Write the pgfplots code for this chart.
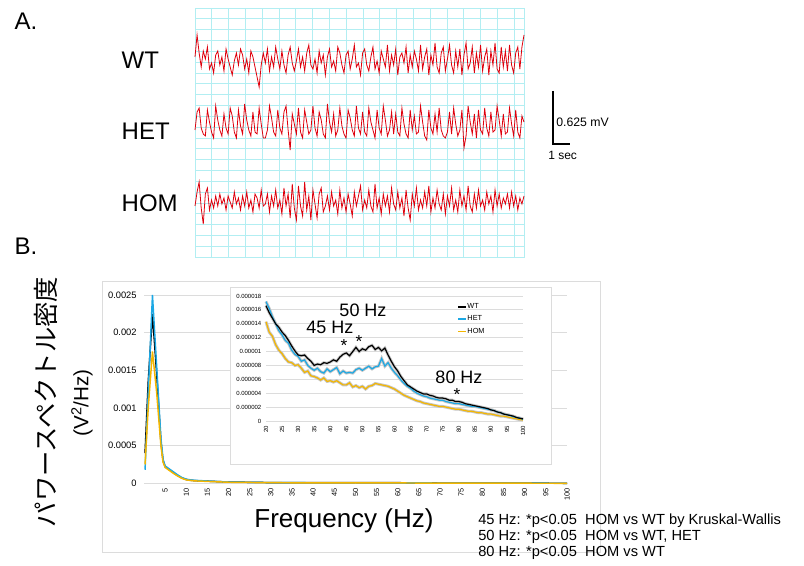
\documentclass[border=0pt]{standalone}
\usepackage{fontspec}
\setmainfont{Liberation Sans}
\newfontfamily\jp{Noto Sans CJK JP}
\usepackage{pgfplots}
\pgfplotsset{compat=1.18}
\usepackage{pgfplotstable}

\definecolor{wt}{RGB}{0,0,0}
\definecolor{het}{RGB}{28,168,228}
\definecolor{hom}{RGB}{244,182,0}
\definecolor{trace}{RGB}{222,0,12}
\definecolor{gridc}{RGB}{178,238,242}
\definecolor{gl}{RGB}{220,220,220}

% EEG traces, offsets in px from the trace baseline (up = positive)
\pgfplotstableread[row sep=\\]{v\\
4\\26\\8\\-6\\10\\2\\14\\-8\\-2\\-12\\
6\\10\\-4\\4\\-10\\12\\2\\-6\\-14\\0\\
8\\-4\\12\\6\\-8\\2\\-12\\10\\4\\-6\\
-16\\-26\\-4\\8\\-2\\12\\-10\\4\\-6\\14\\
2\\-8\\10\\-4\\-12\\6\\14\\-2\\-10\\0\\
12\\-6\\4\\-10\\8\\16\\-4\\-8\\2\\-12\\
10\\-2\\6\\-14\\4\\12\\-6\\0\\-10\\14\\
8\\-4\\-12\\6\\10\\-8\\2\\16\\-6\\-2\\
-14\\8\\12\\-4\\-10\\4\\14\\-8\\0\\-12\\
10\\2\\-6\\16\\-10\\6\\-4\\12\\-14\\4\\
8\\-2\\14\\-12\\6\\-6\\10\\2\\-10\\16\\
-8\\4\\12\\-14\\6\\-4\\18\\-6\\-12\\8\\
14\\-10\\2\\16\\-4\\-12\\10\\-6\\12\\-14\\
6\\18\\-8\\-2\\14\\-12\\8\\-6\\16\\-10\\
4\\12\\-14\\10\\-4\\18\\-8\\-12\\14\\-6\\
10\\-10\\16\\-4\\-12\\8\\14\\-8\\14\\26\\
}\wteeg

\pgfplotstableread[row sep=\\]{v\\
-4\\14\\18\\-2\\-8\\-10\\16\\4\\-6\\-12\\
20\\6\\-4\\-10\\12\\-2\\-8\\18\\10\\-6\\
-12\\16\\0\\-8\\22\\6\\-4\\-10\\14\\-6\\
-8\\18\\2\\-12\\-12\\-4\\20\\8\\-6\\-10\\
16\\-2\\-8\\14\\20\\-4\\-24\\12\\2\\-8\\
18\\-6\\-12\\16\\4\\-8\\-4\\20\\-2\\-10\\
14\\6\\-8\\-12\\22\\4\\-6\\12\\-10\\-4\\
18\\0\\-8\\-12\\16\\8\\-4\\-10\\20\\-2\\
-8\\14\\-6\\-10\\18\\4\\-4\\-12\\16\\-2\\
-8\\20\\6\\-10\\-4\\14\\-8\\12\\-6\\-10\\
18\\2\\-8\\-12\\16\\-4\\10\\-8\\-6\\20\\
4\\-10\\-14\\16\\-2\\-8\\12\\-6\\18\\-4\\
-10\\-12\\-6\\14\\-8\\18\\2\\-10\\-4\\16\\
-22\\-10\\20\\4\\-8\\12\\-12\\16\\-4\\-8\\
18\\-2\\-10\\14\\-6\\-4\\20\\6\\-10\\12\\
-8\\-6\\18\\2\\-10\\16\\-6\\-12\\10\\4\\
}\heteeg

\pgfplotstableread[row sep=\\]{v\\
-4\\10\\20\\-6\\-22\\8\\14\\-8\\2\\-6\\
6\\-4\\8\\-2\\4\\-8\\6\\0\\-6\\10\\
-2\\4\\-8\\6\\-4\\10\\-6\\2\\-10\\8\\
4\\-6\\12\\-4\\-2\\8\\-10\\6\\-4\\12\\
-6\\2\\-12\\14\\-4\\8\\-16\\18\\-6\\-18\\
16\\-4\\-14\\20\\-8\\6\\-18\\12\\-2\\-16\\
8\\14\\-10\\-4\\6\\-8\\10\\-4\\2\\-12\\
12\\-6\\4\\-10\\8\\-2\\-14\\10\\-4\\6\\
16\\-8\\2\\-6\\12\\-4\\-10\\18\\-6\\4\\
-12\\8\\-4\\6\\-10\\14\\-2\\-8\\10\\-6\\
4\\-14\\12\\-6\\-18\\8\\-4\\14\\-8\\2\\
-6\\10\\-4\\16\\-10\\4\\-6\\12\\-2\\-8\\
8\\-12\\6\\-4\\14\\-8\\2\\-10\\12\\-4\\
6\\-8\\16\\-4\\-10\\8\\-6\\12\\-4\\2\\
-8\\10\\-2\\6\\-10\\12\\-4\\8\\-6\\4\\
-2\\8\\-6\\10\\-4\\6\\-8\\4\\-2\\6\\
}\homeeg

% power spectral density, main plot (units of 1e-3 V^2/Hz)
\pgfplotstableread{
f wt het hom
0.25 0.40 0.18 0.25
1 1.35 1.20 1.00
2 2.25 2.50 1.75
3 1.45 1.55 1.20
4 0.55 0.60 0.50
4.5 0.30 0.32 0.28
5 0.22 0.23 0.21
6 0.18 0.19 0.17
7 0.14 0.15 0.13
8 0.10 0.11 0.095
9 0.07 0.075 0.065
10 0.05 0.055 0.045
11 0.04 0.045 0.038
12 0.035 0.04 0.032
15 0.028 0.03 0.025
20 0.017 0.017 0.014
30 0.0095 0.0093 0.0081
40 0.0085 0.0071 0.0058
50 0.0104 0.0073 0.005
60 0.0078 0.007 0.0046
70 0.0039 0.0035 0.0025
80 0.0028 0.0025 0.0017
90 0.0016 0.0016 0.001
100 0.0003 0.00025 0.00015
}\lowf

% inset, 20-100 Hz (units of 1e-6 V^2/Hz)
\pgfplotstableread{
f wt het hom
20 16.6 17.2 14.3
21 15.6 16.2 12.8
22 14.8 15.0 12.2
23 14.0 14.0 11.0
24 13.5 13.0 10.2
25 12.8 12.4 9.7
26 12.3 11.6 9.0
27 11.6 11.2 8.5
28 10.8 10.2 8.4
29 10.1 9.6 8.0
30 9.5 9.3 8.1
31 9.4 8.6 7.6
32 9.5 8.8 7.0
33 9.0 8.0 7.2
34 8.6 7.6 6.5
35 8.0 7.3 6.4
36 8.2 7.6 6.2
37 8.1 7.1 5.9
38 8.4 6.9 6.2
39 8.3 7.5 5.7
40 8.5 7.1 5.8
41 8.8 7.4 5.6
42 8.6 7.7 5.8
43 9.2 6.8 5.5
44 9.6 7.2 5.2
45 9.8 6.9 5.2
46 9.4 7.0 5.5
47 10.0 6.9 4.9
48 10.6 7.4 5.1
49 10.0 7.6 4.8
50 10.4 7.3 5.0
51 10.2 7.6 4.6
52 10.7 7.9 5.0
53 10.9 7.5 5.1
54 10.3 7.8 5.4
55 10.6 7.9 5.3
56 10.1 9.0 5.2
57 10.5 7.9 5.1
58 9.5 8.4 5.0
59 8.6 7.6 4.8
60 7.8 7.0 4.6
61 7.2 6.5 4.3
62 6.4 5.9 4.0
63 5.8 5.4 3.7
64 5.2 5.0 3.5
65 4.9 4.7 3.3
66 4.6 4.3 3.1
67 4.3 4.0 2.9
68 4.1 3.8 2.8
69 3.9 3.6 2.6
70 3.9 3.5 2.5
71 3.7 3.3 2.4
72 3.6 3.2 2.3
73 3.4 3.1 2.2
74 3.3 3.0 2.1
75 3.3 3.0 2.1
76 3.2 2.8 2.0
77 3.0 2.7 1.9
78 3.0 2.6 1.8
79 2.8 2.5 1.7
80 2.8 2.5 1.7
81 2.7 2.4 1.6
82 2.5 2.3 1.5
83 2.4 2.2 1.4
84 2.3 2.1 1.4
85 2.2 2.1 1.3
86 2.1 2.0 1.2
87 2.0 1.9 1.2
88 1.9 1.8 1.1
89 1.8 1.7 1.0
90 1.6 1.6 1.0
91 1.5 1.5 0.9
92 1.3 1.3 0.8
93 1.2 1.2 0.7
94 1.0 1.0 0.7
95 0.9 0.9 0.6
96 0.8 0.8 0.5
97 0.7 0.6 0.4
98 0.5 0.5 0.3
99 0.4 0.4 0.2
100 0.3 0.25 0.15
}\inset

\pgfplotsset{
  eeg/.style={hide axis, scale only axis, width=246.75pt, height=37.5pt,
    xmin=0, xmax=159, ymin=-25, ymax=25, clip=false, anchor=origin},
  xl/.style={scale only axis, axis line style={draw=none},
    major tick length=0pt, tick style={draw=none},
    ymajorgrids, major grid style={gl, line width=0.6pt},
    /pgf/number format/assume math mode=true,
    xticklabel style={rotate=90, anchor=east},
    clip=false},
}

\begin{document}
\begin{tikzpicture}[x=0.75pt, y=-0.75pt]
\useasboundingbox (0,0) rectangle (804,566);

% ---- panel A ----
\node[anchor=west, font=\fontsize{18}{20}\selectfont] at (10,21) {A.};
\foreach \k in {0,...,19} \draw[gridc, line width=0.6pt] ({195+16.8*\k},8) -- ({195+16.8*\k},258);
\draw[gridc, line width=0.6pt] (524,8) -- (524,258);
\foreach \k in {0,...,23} \draw[gridc, line width=0.6pt] (195,{8+10.83*\k}) -- (524,{8+10.83*\k});

\coordinate (wtO) at (195,61);
\coordinate (hetO) at (195,126);
\coordinate (homO) at (195,202);
\begin{axis}[eeg, at={(wtO)}]
  \addplot[trace, line width=0.6pt] table[x expr=\coordindex, y=v] {\wteeg};
\end{axis}
\begin{axis}[eeg, at={(hetO)}]
  \addplot[trace, line width=0.6pt] table[x expr=\coordindex, y=v] {\heteeg};
\end{axis}
\begin{axis}[eeg, at={(homO)}]
  \addplot[trace, line width=0.6pt] table[x expr=\coordindex, y=v] {\homeeg};
\end{axis}

\node[anchor=west, font=\fontsize{18}{20}\selectfont] at (117,60) {WT};
\node[anchor=west, font=\fontsize{18}{20}\selectfont] at (117,131) {HET};
\node[anchor=west, font=\fontsize{18}{20}\selectfont] at (117,203) {HOM};

% scale bar
\draw[line width=1.3pt] (553,91) -- (553,144) -- (570,144);
\node[anchor=west, font=\fontsize{9.2}{11}\selectfont, inner sep=0pt] at (556,122) {0.625 mV};
\node[anchor=west, font=\fontsize{9}{11}\selectfont, inner sep=0pt] at (548,155) {1 sec};

% ---- panel B ----
\node[anchor=west, font=\fontsize{18}{20}\selectfont] at (10,246) {B.};
\draw[gl, line width=0.5pt] (102,281) rectangle (600,552);

\coordinate (mainO) at (144,483.3);
\begin{axis}[xl, at={(mainO)}, anchor=origin,
  width=317.25pt, height=141.2pt,
  xmin=0, xmax=100, ymin=0, ymax=2.5,
  xtick={5,10,...,100}, ytick={0,0.5,...,2.5},
  yticklabels={0,0.0005,0.001,0.0015,0.002,0.0025},
  xticklabel style={font=\fontsize{5.5}{6}\selectfont},
  yticklabel style={font=\fontsize{7}{8}\selectfont, xshift=-2pt},
  ]
  \addplot[wt, line width=1.1pt] table[x=f, y=wt] {\lowf};
  \addplot[het, line width=1.1pt] table[x=f, y=het] {\lowf};
  \addplot[hom, line width=1.1pt] table[x=f, y=hom] {\lowf};
\end{axis}

% inset
\draw[gl, line width=0.5pt, fill=white] (230,287) rectangle (551,464);
\coordinate (inSW) at (266,421);
\begin{axis}[xl, at={(inSW)}, anchor=south west,
  width=192.75pt, height=93.75pt,
  xmin=20, xmax=100, ymin=0, ymax=18,
  xtick={20,25,...,100}, ytick={0,2,...,18},
  yticklabels={0,0.000002,0.000004,0.000006,0.000008,0.00001,0.000012,0.000014,0.000016,0.000018},
  xticklabel style={font=\fontsize{4.5}{5}\selectfont},
  yticklabel style={font=\fontsize{4.5}{5}\selectfont},
  legend style={at={(0.743,0.95)}, anchor=north west, draw=none, fill=none,
    font=\fontsize{5.5}{6}\selectfont, row sep=3pt, inner sep=0pt,
    nodes={inner sep=0.5pt}},
  legend cell align=left,
  legend image code/.code={\draw[#1, line width=1.2pt] (0pt,0pt) -- (6pt,0pt);},
  ]
  \addlegendimage{wt}\addlegendentry{WT}
  \addlegendimage{het}\addlegendentry{HET}
  \addlegendimage{hom}\addlegendentry{HOM}
  \addplot[gray!45, line width=2.2pt, forget plot] table[x=f, y=hom] {\inset};
  \addplot[gray!45, line width=2.2pt, forget plot] table[x=f, y=het] {\inset};
  \addplot[gray!45, line width=2.2pt, forget plot] table[x=f, y=wt] {\inset};
  \addplot[hom, line width=0.9pt, forget plot] table[x=f, y=hom] {\inset};
  \addplot[het, line width=0.9pt, forget plot] table[x=f, y=het] {\inset};
  \addplot[wt, line width=0.9pt, forget plot] table[x=f, y=wt] {\inset};
\end{axis}

\node[font=\fontsize{13.5}{15}\selectfont] at (363,310) {50 Hz};
\node[font=\fontsize{13.5}{15}\selectfont] at (330,327) {45 Hz};
\node[font=\fontsize{13.5}{15}\selectfont] at (459,377) {80 Hz};
\node[font=\fontsize{13}{14}\selectfont] at (344,346) {*};
\node[font=\fontsize{13}{14}\selectfont] at (359,342) {*};
\node[font=\fontsize{13}{14}\selectfont] at (457,395) {*};

% axis titles
\node[rotate=90, font=\jp\fontsize{19}{21}\selectfont] at (46,402) {パワースペクトル密度};
\node[rotate=90, font=\fontsize{15.5}{17}\selectfont] at (82,403) {(V\textsuperscript{2}/Hz)};
\node[font=\fontsize{19.5}{22}\selectfont] at (344,521) {Frequency (Hz)};

\node[anchor=west, inner sep=0pt, font=\fontsize{11}{12}\selectfont] at (478,521) {45 Hz: *p<0.05\ \ HOM vs WT by Kruskal-Wallis};
\node[anchor=west, inner sep=0pt, font=\fontsize{11}{12}\selectfont] at (478,537) {50 Hz: *p<0.05\ \ HOM vs WT, HET};
\node[anchor=west, inner sep=0pt, font=\fontsize{11}{12}\selectfont] at (478,553) {80 Hz: *p<0.05\ \ HOM vs WT};
\end{tikzpicture}
\end{document}
